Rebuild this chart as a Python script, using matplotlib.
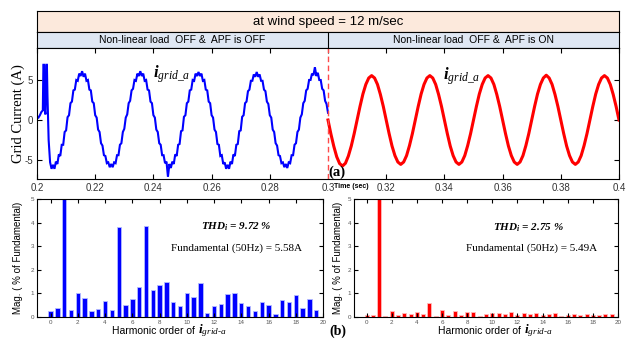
import numpy as np
import matplotlib
matplotlib.use('Agg')
import matplotlib.pyplot as plt

plt.rcParams['font.family'] = ['Liberation Sans', 'DejaVu Sans']
plt.rcParams['mathtext.fontset'] = 'custom'
plt.rcParams['mathtext.rm'] = 'Liberation Serif'
plt.rcParams['mathtext.it'] = 'Liberation Serif:italic'
plt.rcParams['mathtext.bf'] = 'Liberation Serif:italic:bold'
plt.rcParams['axes.unicode_minus'] = False

# ---------------- data ----------------
# grid current, APF OFF (blue): start-up transient, then samples every 0.5 ms from 0.2045 s
blue_transient_t = [0.2000, 0.2005, 0.2010, 0.2015, 0.2020, 0.2022, 0.2024, 0.2026,
                    0.2029, 0.2032, 0.2034, 0.2036, 0.2040]
blue_transient_i = [0.4, 0.3, 0.6, 1.0, 1.2, 6.9, 6.9, 1.5, 0.7, 6.9, 6.9, 3.0, -2.5]
blue_start = 0.2045
blue_step = 0.0005
blue_i = [
    -5.3, -6.1, -5.6, -6.1, -5.2, -5.5, -4.3, -4.5, -3.1, -3.1, -1.5, -1.3, 0.35, 0.6, 2.1, 2.3,
    3.7, 3.8, 5.0, 4.9, 5.8, 5.5, 6.1, 5.4, 5.8, 4.9, 5.0, 3.8, 3.7, 2.3, 2.1, 0.6,
    0.3, -1.2, -1.5, -2.9, -3.2, -4.4, -4.5, -5.4, -5.3, -5.9, -5.5, -5.9, -5.3, -5.4, -4.4, -4.4,
    -3.1, -2.9, -1.5, -1.1, 0.3, 0.7, 2.1, 2.4, 3.7, 3.9, 5.0, 4.9, 5.8, 5.5, 6.1, 5.5,
    5.8, 4.9, 5.0, 3.8, 3.7, 2.3, 2.1, 0.6,
    0.3, -1.2, -1.5, -2.9, -3.1, -4.4, -4.4, -5.4, -5.2, -7.1, -5.5, -6.0, -5.2, -5.5, -4.3, -4.5,
    -3.1, -3.0, -1.4, -1.3, 0.4, 0.6, 2.1, 2.3, 3.7, 3.8, 5.0, 4.9, 5.8, 5.5, 6.0, 5.5,
    5.8, 4.9, 5.0, 3.8, 3.7, 2.3, 2.1, 0.6,
    0.3, -1.2, -1.5, -3.0, -3.1, -4.5, -4.4, -5.5, -5.3, -6.1, -5.6, -6.1, -5.2, -5.5, -4.3, -4.5,
    -3.1, -3.0, -1.4, -1.3, 0.4, 0.6, 2.1, 2.3, 3.6, 3.8, 4.9, 4.9, 5.7, 5.4, 6.0, 5.4,
    5.7, 4.9, 4.9, 3.8, 3.6, 2.3, 2.0, 0.6,
    0.3, -1.2, -1.5, -2.9, -3.2, -4.4, -4.5, -5.4, -5.3, -5.9, -5.5, -6.0, -5.3, -5.4, -4.4, -4.4,
    -3.1, -2.9, -1.5, -1.2, 0.3, 0.7, 2.1, 2.4, 3.7, 3.9, 5.0, 5.0, 5.8, 5.6, 6.6, 5.5,
    5.9, 5.0, 5.0, 3.9, 3.7, 2.4, 2.0, 0.9,
]
# grid current, APF ON (red): samples every 1 ms from 0.300 s
red_start = 0.300
red_step = 0.001
red_i = [
    0, -1.75, -3.3, -4.6, -5.45, -5.75, -5.4, -4.5, -3.25, -1.7,
    0, 1.7, 3.25, 4.45, 5.25, 5.55, 5.25, 4.45, 3.2, 1.7,
    0, -1.7, -3.25, -4.45, -5.25, -5.55, -5.25, -4.45, -3.2, -1.7,
    0, 1.7, 3.25, 4.45, 5.25, 5.55, 5.25, 4.45, 3.2, 1.7,
    0, -1.7, -3.25, -4.45, -5.25, -5.55, -5.25, -4.45, -3.2, -1.7,
    0, 1.7, 3.25, 4.45, 5.25, 5.55, 5.25, 4.45, 3.2, 1.7,
    0, -1.7, -3.25, -4.45, -5.25, -5.55, -5.25, -4.45, -3.2, -1.7,
    0, 1.7, 3.25, 4.45, 5.25, 5.6, 5.25, 4.45, 3.2, 1.7,
    0, -1.7, -3.25, -4.45, -5.25, -5.55, -5.25, -4.45, -3.2, -1.7,
    0, 1.7, 3.25, 4.45, 5.25, 5.55, 5.25, 4.45, 3.2, 1.7,
    0,
]
time_ticks = [0.2, 0.22, 0.24, 0.26, 0.28, 0.3, 0.32, 0.34, 0.36, 0.38, 0.4]
time_labels = ['0.2', '0.22', '0.24', '0.26', '0.28', '0.3', '0.32', '0.34', '0.36', '0.38', '0.4']
current_ticks = [-5, 0, 5]

# harmonic spectra (% of fundamental)
orders = [0, 0.5, 1, 1.5, 2, 2.5, 3, 3.5, 4, 4.5, 5, 5.5, 6, 6.5, 7, 7.5, 8, 8.5, 9, 9.5,
          10, 10.5, 11, 11.5, 12, 12.5, 13, 13.5, 14, 14.5, 15, 15.5, 16, 16.5, 17, 17.5,
          18, 18.5, 19, 19.5]
mag_off = [0.27, 0.39, 100, 0.31, 1.0, 0.8, 0.25, 0.32, 0.69, 0.28, 3.83, 0.51, 0.75, 1.28,
           3.85, 1.13, 1.35, 1.49, 0.62, 0.45, 1.03, 0.86, 1.44, 0.18, 0.48, 0.55, 0.99, 1.01,
           0.59, 0.45, 0.24, 0.62, 0.51, 0.14, 0.72, 0.65, 0.93, 0.39, 0.77, 0.3]
mag_on = [0.08, 0.07, 100, 0.05, 0.25, 0.08, 0.17, 0.12, 0.2, 0.13, 0.58, 0.05, 0.28, 0.1,
          0.27, 0.08, 0.2, 0.22, 0.05, 0.12, 0.15, 0.15, 0.12, 0.2, 0.1, 0.15, 0.12, 0.18,
          0.1, 0.13, 0.15, 0.04, 0.08, 0.14, 0.08, 0.12, 0.08, 0.1, 0.12, 0.12]
order_ticks = [0, 2, 4, 6, 8, 10, 12, 14, 16, 18, 20]
mag_ticks = [0, 1, 2, 3, 4, 5]

# ---------------- figure ----------------
fig = plt.figure(figsize=(6.31, 3.42), dpi=100)
W_PX, H_PX = 631.0, 342.0
def rect(x0, y0, x1, y1):
    return [x0 / W_PX, 1 - y1 / H_PX, (x1 - x0) / W_PX, (y1 - y0) / H_PX]

ax_title = fig.add_axes(rect(37, 11, 619, 31.5))
ax_sub = fig.add_axes(rect(37, 31.5, 619, 48))
ax = fig.add_axes(rect(37, 48, 619, 179))
ax1 = fig.add_axes(rect(37, 199, 323, 317))
ax2 = fig.add_axes(rect(354, 199, 618, 317))

for a in (ax_title, ax_sub):
    a.set_xticks([]); a.set_yticks([])
    a.set_xlim(0, 1); a.set_ylim(0, 1)
    for s in a.spines.values():
        s.set_linewidth(0.8)
ax_title.set_facecolor('#fce9dc')
ax_sub.set_facecolor('#dfe7f3')
ax_title.text(0.5, 0.48, 'at wind speed = 12 m/sec', ha='center', va='center', fontsize=9.5)
ax_sub.axvline(0.5, color='black', lw=0.8)
ax_sub.text(0.25, 0.48, 'Non-linear load  OFF &  APF is OFF', ha='center', va='center', fontsize=7.5)
ax_sub.text(0.75, 0.48, 'Non-linear load  OFF &  APF is ON', ha='center', va='center', fontsize=7.5)

# top waveform
blue_t = blue_transient_t + [blue_start + blue_step * k for k in range(len(blue_i))]
blue_v = blue_transient_i + blue_i
red_t = [red_start + red_step * k for k in range(len(red_i))]
ax.plot(blue_t, blue_v, color='#0000ff', lw=1.5, solid_joinstyle='miter')
ax.plot(red_t, red_i, color='#ff0000', lw=2.2)
ax.axvline(0.3, color='#ff4a4a', ls=(0, (4, 2.5)), lw=1.0)
ax.set_xlim(0.2, 0.4)
ax.set_ylim(-7.375, 9.0)
ax.set_xticks(time_ticks)
ax.set_xticklabels(time_labels)
ax.set_yticks(current_ticks)
ax.set_yticklabels([str(v) for v in current_ticks])
ax.tick_params(direction='in', top=True, right=True, length=3.5, width=0.8,
               labelsize=7, labelcolor='#333333', pad=3)
for s in ax.spines.values():
    s.set_linewidth(0.8)
ax.set_ylabel('Grid Current (A)', family='Liberation Serif', fontsize=10.5)
ax.yaxis.set_label_coords(-0.0206, 0.5)
ax.text(0.2399, 5.25, r'$\mathbf{i}_{grid\_a}$', fontsize=12, ha='left', va='baseline')
ax.text(0.3395, 5.0, r'$\mathbf{i}_{grid\_a}$', fontsize=12, ha='left', va='baseline')
ax.annotate('(a)', xy=(0.3031, 0.053), xycoords=('data', 'axes fraction'),
            ha='center', va='center', family='Liberation Serif', weight='bold', fontsize=10.5)
ax.annotate('Time (sec)', xy=(0.3021, -0.058), xycoords=('data', 'axes fraction'),
            ha='left', va='center', weight='bold', fontsize=5)

# spectra
SUB_LABEL = '$\\mathbf{i}_{grid\u2010a}$'

def spectrum(a, mags, color, edge, ylab_x, junction):
    a.bar(orders, mags, width=0.32, color=color, edgecolor=edge, linewidth=0.6)
    a.set_xlim(-1, 20)
    a.set_ylim(0, 5)
    a.set_xticks(order_ticks)
    a.set_xticklabels([str(v) for v in order_ticks])
    a.set_yticks(mag_ticks)
    a.set_yticklabels([str(v) for v in mag_ticks])
    a.tick_params(direction='in', top=True, right=True, length=3, width=0.8,
                  labelsize=4.5, labelcolor='#555555', pad=2)
    for s in a.spines.values():
        s.set_linewidth(0.8)
    a.set_ylabel('Mag. ( % of Fundamental)', fontsize=7)
    a.yaxis.set_label_coords(ylab_x, 0.5)
    a.text(junction, -0.14, 'Harmonic order of ', ha='right', va='baseline',
           transform=a.transAxes, fontsize=7.5)
    a.text(junction, -0.14, SUB_LABEL, ha='left', va='baseline',
           transform=a.transAxes, fontsize=9.5)

spectrum(ax1, mag_off, '#0000ff', '#b4bcff', -0.049, 0.563)
spectrum(ax2, mag_on, '#ff0000', '#ffbcbc', -0.042, 0.644)

ax1.text(0.696, 0.763, r'$\mathbf{THD}_{\mathbf{i}}$ = 9.72 %', transform=ax1.transAxes,
         ha='center', va='center', family='Liberation Serif', weight='bold', style='italic', fontsize=8)
ax1.text(0.696, 0.585, 'Fundamental (50Hz) = 5.58A', transform=ax1.transAxes,
         ha='center', va='center', family='Liberation Serif', fontsize=8)
ax2.text(0.659, 0.754, r'$\mathbf{THD}_{\mathbf{i}}$ = 2.75 %', transform=ax2.transAxes,
         ha='center', va='center', family='Liberation Serif', weight='bold', style='italic', fontsize=8)
ax2.text(0.674, 0.585, 'Fundamental (50Hz) = 5.49A', transform=ax2.transAxes,
         ha='center', va='center', family='Liberation Serif', fontsize=8)

fig.text(338 / W_PX, 1 - 331 / H_PX, '(b)', ha='center', va='center',
         family='Liberation Serif', weight='bold', fontsize=10)

fig.savefig('out.png', dpi=100)
